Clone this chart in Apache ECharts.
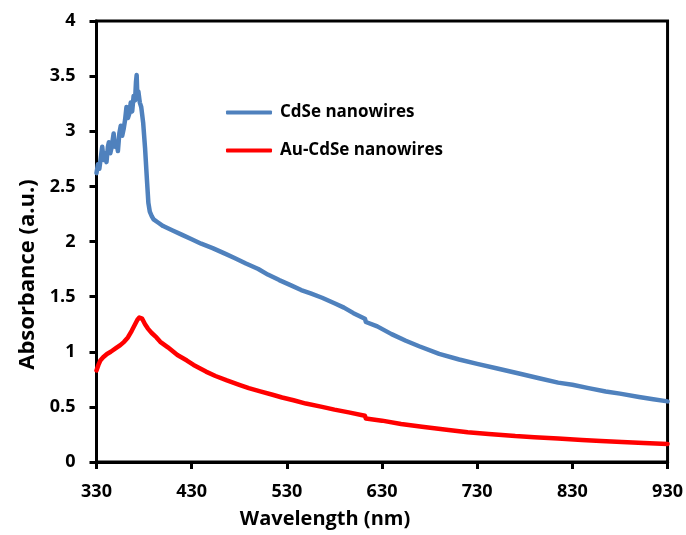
<!DOCTYPE html>
<html>
<head>
<meta charset="utf-8">
<script src="https://cdn.jsdelivr.net/npm/echarts@6/dist/echarts.min.js"></script>
<style>
html,body{margin:0;padding:0;background:#fff;}
#chart{width:686px;height:535px;}
</style>
</head>
<body>
<div id="chart"></div>
<script>
// ---- data ----
const xTicks = [330, 430, 530, 630, 730, 830, 930];
const yTicks = [0, 0.5, 1, 1.5, 2, 2.5, 3, 3.5, 4];

const cdseWavelength = [330,331.5,333,334.5,336,337.5,339,340.5,342,343,344.5,346,348,349.5,351,352.5,354,355.5,357,358.5,360,361.5,363,364.5,366,367.5,369,370.5,371.5,372.2,373,374,375.5,377,379,381,383,384.5,386,388,390,395,400,410,420,430,440,452,465,475,487,500,510,522,535,545,555,567,580,590,600,612,613,625,640,655,669,690,711,730,750,775,795,815,830,847,865,880,900,915,930];
const cdseAbs = [2.62,2.70,2.66,2.76,2.86,2.74,2.80,2.72,2.86,2.90,2.80,2.86,2.98,2.86,2.90,2.82,2.98,3.05,2.96,3.02,3.10,3.22,3.12,3.16,3.26,3.18,3.32,3.28,3.45,3.51,3.30,3.36,3.26,3.22,3.08,2.85,2.56,2.35,2.27,2.23,2.20,2.17,2.14,2.10,2.06,2.02,1.98,1.94,1.89,1.85,1.80,1.75,1.70,1.65,1.60,1.56,1.53,1.49,1.44,1.40,1.35,1.30,1.27,1.23,1.16,1.10,1.05,0.98,0.93,0.89,0.85,0.80,0.76,0.72,0.70,0.67,0.64,0.62,0.59,0.57,0.55];

const auWavelength = [330,332,334,337,341,345,350,355,359,363,367,370,373,375,376.5,378,381,384,388,393,397,405,415,425,432,445,455,467,480,490,502,515,525,537,550,567,580,595,612,613,630,650,672,700,720,742,770,790,815,840,860,882,905,930];
const auAbs = [0.83,0.88,0.92,0.95,0.98,1.00,1.03,1.06,1.09,1.13,1.19,1.24,1.29,1.31,1.32,1.30,1.25,1.21,1.17,1.13,1.09,1.04,0.97,0.92,0.88,0.82,0.78,0.74,0.70,0.67,0.64,0.61,0.585,0.56,0.53,0.50,0.475,0.45,0.42,0.395,0.375,0.345,0.32,0.29,0.27,0.255,0.235,0.225,0.213,0.20,0.19,0.181,0.172,0.163];

const seriesNames = ['CdSe nanowires', 'Au-CdSe nanowires'];

// ---- chart ----
const pair = (xs, ys) => xs.map((x, i) => [x, ys[i]]);
const FONT = 'Open Sans';
const chart = echarts.init(document.getElementById('chart'), null, {renderer: 'canvas'});
chart.setOption({
  animation: false,
  backgroundColor: '#fff',
  grid: {left: 96.5, right: 17, top: 21, bottom: 73, show: true, borderColor: '#000', borderWidth: 3, containLabel: false},
  legend: {
    orient: 'vertical', left: 226, top: 104, padding: 0, itemWidth: 46, itemHeight: 4, itemGap: 21,
    icon: 'roundRect',
    data: seriesNames,
    textStyle: {fontFamily: FONT, fontWeight: 'bold', fontSize: 17, color: '#000', padding: [0, 0, 0, 3]}
  },
  xAxis: {
    type: 'value', min: xTicks[0], max: xTicks[xTicks.length - 1],
    name: 'Wavelength (nm)', nameLocation: 'middle', nameGap: 47,
    nameTextStyle: {fontFamily: FONT, fontWeight: 'bold', fontSize: 20, color: '#000', padding: [0, 114, 0, 0]},
    axisLine: {lineStyle: {color: '#000', width: 3}},
    axisTick: {show: true, inside: false, length: 7, lineStyle: {color: '#000', width: 3}, customValues: xTicks},
    axisLabel: {fontFamily: FONT, fontWeight: 'bold', fontSize: 18, color: '#000', margin: 21, customValues: xTicks, showMinLabel: true, showMaxLabel: true},
    splitLine: {show: false}
  },
  yAxis: {
    type: 'value', min: yTicks[0], max: yTicks[yTicks.length - 1], interval: 0.5,
    name: 'Absorbance (a.u.)', nameLocation: 'middle', nameGap: 58,
    nameTextStyle: {fontFamily: FONT, fontWeight: 'bold', fontSize: 22, color: '#000', padding: [0, 66, 0, 0]},
    axisLine: {show: true, lineStyle: {color: '#000', width: 3}},
    axisTick: {show: true, inside: false, length: 7, lineStyle: {color: '#000', width: 3}},
    axisLabel: {fontFamily: FONT, fontWeight: 'bold', fontSize: 18, color: '#000', margin: 21},
    splitLine: {show: false}
  },
  series: [
    {name: seriesNames[0], type: 'line', data: pair(cdseWavelength, cdseAbs), showSymbol: false, symbol: 'none',
     itemStyle: {color: '#4F81BD'}, lineStyle: {color: '#4F81BD', width: 4.5, cap: 'round', join: 'round'}},
    {name: seriesNames[1], type: 'line', data: pair(auWavelength, auAbs), showSymbol: false, symbol: 'none',
     itemStyle: {color: '#FF0000'}, lineStyle: {color: '#FF0000', width: 4.5, cap: 'round', join: 'round'}}
  ]
});
</script>
</body>
</html>
